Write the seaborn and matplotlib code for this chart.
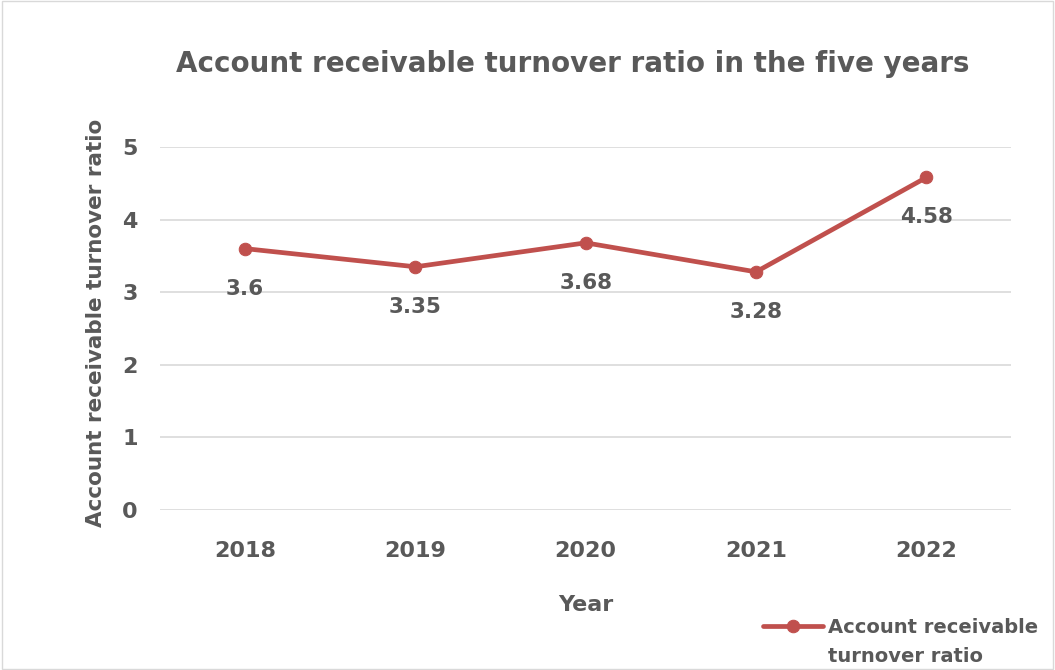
import matplotlib
matplotlib.use("Agg")
import matplotlib.pyplot as plt
import seaborn as sns
import pandas as pd

years = ["2018", "2019", "2020", "2021", "2022"]
ratios = [3.6, 3.35, 3.68, 3.28, 4.58]
label_texts = ["3.6", "3.35", "3.68", "3.28", "4.58"]
yticks = [0, 1, 2, 3, 4, 5]
series_name = ["Account receivable", "turnover ratio"]

sns.set_theme(style="white")
plt.rcParams['font.family'] = ['DejaVu Sans']

df = pd.DataFrame({"Year": years, "ratio": ratios})
grey = "#595959"
red = "#C0504D"

fig = plt.figure(figsize=(10.55, 6.70), dpi=100)
ax = fig.add_axes([0.1517, 0.2388, 0.807, 0.5418])

sns.lineplot(data=df, x="Year", y="ratio", ax=ax, color=red, linewidth=3.4,
             marker="o", markersize=9, markeredgecolor=red, sort=False,
             label=series_name[0])

for i, (v, t) in enumerate(zip(ratios, label_texts)):
    ax.annotate(t, (i, v), xytext=(0, -40), textcoords="offset pixels",
                ha="center", va="center", fontsize=15.5, fontweight="bold", color=grey)

ax.set_xlim(-0.5, 4.5)
ax.set_ylim(0, 5)
ax.set_yticks(yticks)
ax.grid(axis="y", color="#D9D9D9", linewidth=1.2)
ax.set_axisbelow(True)
for s in ax.spines.values():
    s.set_visible(False)
ax.tick_params(axis="both", length=0, labelsize=16, labelcolor=grey)
ax.tick_params(axis="x", pad=22)
ax.tick_params(axis="y", pad=16)
for lab in ax.get_xticklabels() + ax.get_yticklabels():
    lab.set_fontweight("bold")

ax.set_xlabel("Year", fontsize=16, fontweight="bold", color=grey, labelpad=25)
ax.set_ylabel("Account receivable turnover ratio", fontsize=15.5, fontweight="bold",
              color=grey)
ax.yaxis.set_label_coords(-0.063, 0.515)

fig.text(0.543, 0.905, "Account receivable turnover ratio in the five years",
         ha="center", va="center", fontsize=20, fontweight="bold", color=grey)

leg = ax.legend(loc="center left", bbox_to_anchor=(0.708, -0.323), frameon=False,
                fontsize=14, handlelength=3.1, handletextpad=0.25, borderaxespad=0,
                borderpad=0)
for txt in leg.get_texts():
    txt.set_color(grey)
    txt.set_fontweight("bold")

fig.text(828 / 1055, 1 - 657 / 670, series_name[1], ha="left", va="center",
         fontsize=14, fontweight="bold", color=grey)

fig.patches.append(plt.Rectangle((0.002, 0.002), 0.996, 0.996, transform=fig.transFigure,
                                 fill=False, edgecolor="#D9D9D9", linewidth=1))

fig.savefig("out.png", dpi=100, facecolor="white")
